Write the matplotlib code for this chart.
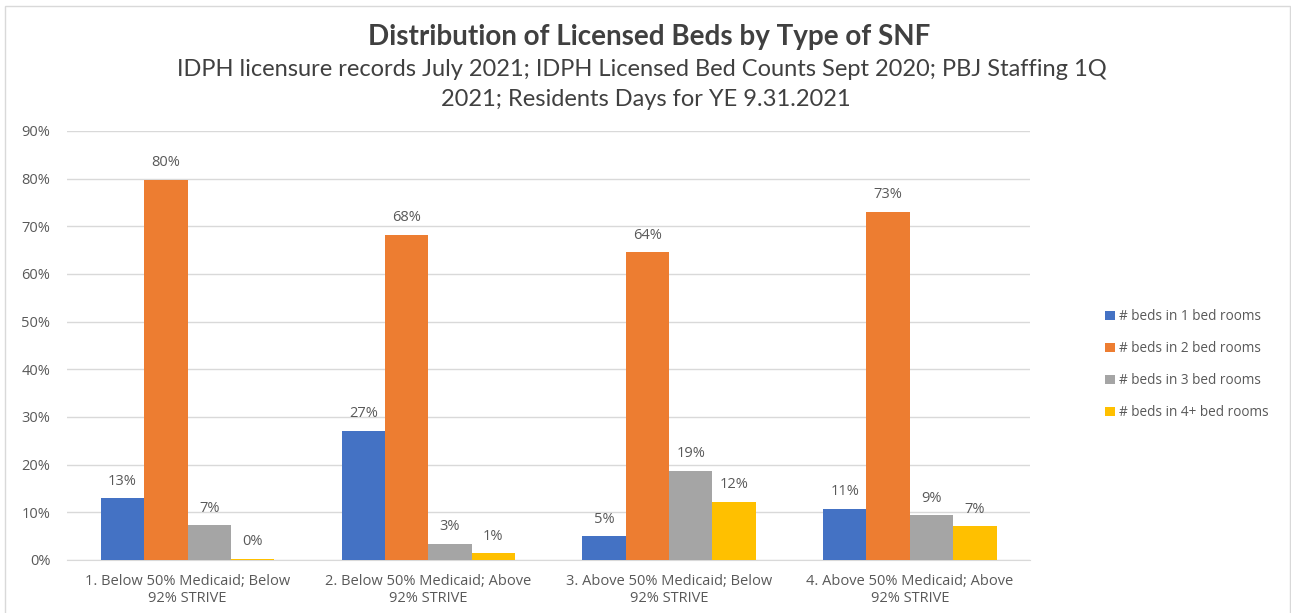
import numpy as np
import matplotlib
matplotlib.use("Agg")
import matplotlib.pyplot as plt
from matplotlib.patches import Rectangle

# data
groups = ["1. Below 50% Medicaid; Below\n92% STRIVE",
          "2. Below 50% Medicaid; Above\n92% STRIVE",
          "3. Above 50% Medicaid; Below\n92% STRIVE",
          "4. Above 50% Medicaid; Above\n92% STRIVE"]
series = ["# beds in 1 bed rooms", "# beds in 2 bed rooms",
          "# beds in 3 bed rooms", "# beds in 4+ bed rooms"]
beds_1 = [12.9, 27.1, 5.0, 10.7]
beds_2 = [79.7, 68.2, 64.5, 73.0]
beds_3 = [7.3, 3.4, 18.7, 9.4]
beds_4 = [0.3, 1.4, 12.2, 7.1]
colors = ["#4472C4", "#ED7D31", "#A5A5A5", "#FFC000"]

txt = "#595959"
plt.rcParams['font.family'] = ['Open Sans', 'DejaVu Sans']

fig = plt.figure(figsize=(12.91, 6.13), dpi=100)
ax = fig.add_axes([0.052, 0.0865, 0.746, 0.7])

x = np.arange(len(groups))
w = 0.18
all_vals = [beds_1, beds_2, beds_3, beds_4]
for i, vals in enumerate(all_vals):
    pos = x + (i - 1.5) * w
    ax.bar(pos, vals, width=w, color=colors[i], label=series[i], zorder=3)
    for p, v in zip(pos, vals):
        ax.text(p, v + 2.0, f"{v:.0f}%", ha="center", va="bottom",
                fontsize=10.5, color=txt)

ax.set_ylim(0, 90)
ax.set_xlim(-0.5, 3.5)
ax.set_yticks(np.arange(0, 91, 10))
ax.set_yticklabels([f"{t}%" for t in range(0, 91, 10)])
ax.set_xticks(x)
ax.set_xticklabels(groups)
ax.tick_params(axis="both", length=0, colors=txt, labelsize=10.5)
ax.tick_params(axis="x", pad=10)
ax.tick_params(axis="y", pad=12)
ax.grid(axis="y", color="#D9D9D9", linewidth=1, zorder=0)
for s in ["top", "right", "left"]:
    ax.spines[s].set_visible(False)
ax.spines["bottom"].set_color("#D9D9D9")

leg = ax.legend(loc="center left", bbox_to_anchor=(1.065, 0.455), frameon=False,
                fontsize=9.8, handlelength=0.7, handleheight=0.7,
                handletextpad=0.3, labelspacing=1.25)
for t in leg.get_texts():
    t.set_color(txt)

fig.text(0.503, 0.94, "Distribution of Licensed Beds by Type of SNF",
         ha="center", va="center", fontsize=20, fontweight="bold",
         color="#404040", family=["Lato", "DejaVu Sans"])
fig.text(0.497, 0.887, "IDPH licensure records July 2021; IDPH Licensed Bed Counts Sept 2020; PBJ Staffing 1Q",
         ha="center", va="center", fontsize=17, color="#404040",
         family=["Lato", "DejaVu Sans"])
fig.text(0.5, 0.838, "2021; Residents Days for YE 9.31.2021",
         ha="center", va="center", fontsize=17, color="#404040",
         family=["Lato", "DejaVu Sans"])

fig.patches.append(Rectangle((0.004, -0.01), 0.995, 1.0, transform=fig.transFigure,
                             fill=False, edgecolor="#D9D9D9", linewidth=1))

fig.savefig("out.png", dpi=100)
